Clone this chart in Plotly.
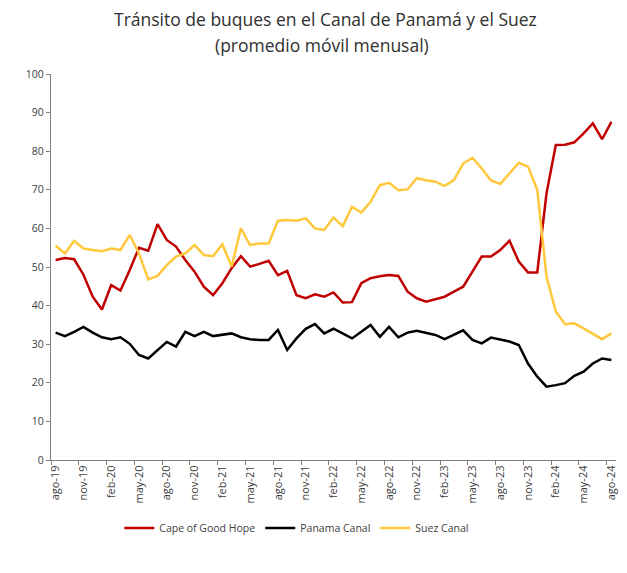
import plotly.graph_objects as go

months = ["ago", "sep", "oct", "nov", "dic", "ene", "feb", "mar", "abr", "may", "jun", "jul"]
categories = []
for i in range(61):
    mi = i % 12
    yr = 19 + (i + 7) // 12
    categories.append(f"{months[mi]}-{yr}")

cape = [51.8, 52.3, 52.0, 48.0, 42.3, 39.0, 45.3, 43.9, 49.2, 55.0, 54.2, 61.1,
        57.0, 55.3, 51.8, 48.8, 44.9, 42.7, 45.8, 49.7, 52.8, 50.1, 50.8, 51.6,
        47.9, 49.0, 42.7, 41.9, 42.9, 42.3, 43.4, 40.8, 40.9, 45.8, 47.1, 47.6,
        47.9, 47.7, 43.6, 41.9, 41.0, 41.6, 42.3, 43.6, 44.9, 48.8, 52.7, 52.7,
        54.4, 56.8, 51.4, 48.6, 48.6, 69.1, 81.6, 81.7, 82.3, 84.6, 87.2, 83.1, 87.6]

panama = [33.0, 32.1, 33.2, 34.5, 33.0, 31.8, 31.3, 31.8, 30.1, 27.2, 26.3, 28.5,
          30.6, 29.4, 33.2, 32.1, 33.2, 32.1, 32.4, 32.8, 31.8, 31.3, 31.1, 31.1,
          33.7, 28.5, 31.5, 34.0, 35.2, 32.8, 34.0, 32.8, 31.5, 33.2, 35.0, 31.9,
          34.5, 31.8, 33.0, 33.5, 33.0, 32.4, 31.3, 32.4, 33.6, 31.1, 30.2, 31.7,
          31.1, 30.7, 29.8, 25.0, 21.6, 19.0, 19.4, 19.9, 21.8, 22.9, 25.0, 26.3, 25.9]

suez = [55.5, 53.5, 56.8, 54.8, 54.4, 54.1, 54.8, 54.4, 58.3, 53.5, 46.8, 47.7,
        50.5, 52.7, 53.5, 55.7, 53.1, 52.8, 55.9, 50.1, 60.0, 55.7, 56.1, 56.1,
        62.0, 62.2, 62.0, 62.6, 60.0, 59.6, 62.8, 60.6, 65.6, 64.1, 66.9, 71.2,
        71.8, 69.9, 70.1, 73.0, 72.5, 72.1, 71.0, 72.5, 76.8, 78.3, 75.6, 72.4,
        71.5, 74.3, 77.0, 76.0, 70.0, 47.5, 38.5, 35.2, 35.4, 34.1, 32.8, 31.3, 32.8]

y_ticks = list(range(0, 101, 10))

x = list(range(len(categories)))
label_idx = list(range(0, 61, 3))
label_text = [categories[i] for i in label_idx]
boundary_ticks = [i - 0.5 for i in range(0, 61, 3)]

font_family = "Open Sans, Lato, sans-serif"
text_color = "#404040"

fig = go.Figure()
fig.add_trace(go.Scatter(x=x, y=cape, mode="lines", name="Cape of Good Hope",
                         line=dict(color="#C00000", width=2.5)))
fig.add_trace(go.Scatter(x=x, y=panama, mode="lines", name="Panama Canal",
                         line=dict(color="#000000", width=2.5)))
fig.add_trace(go.Scatter(x=x, y=suez, mode="lines", name="Suez Canal",
                         line=dict(color="#FFC83D", width=2.5)))

plot_h = 386
fig.update_layout(
    width=627, height=573,
    margin=dict(l=51, r=9, t=74, b=113),
    paper_bgcolor="white", plot_bgcolor="white",
    font=dict(family=font_family, color=text_color, size=10),
    showlegend=True,
    legend=dict(orientation="h", x=0.435, xanchor="center", y=-(528 - 460) / plot_h,
                yanchor="middle", font=dict(size=10.5, color=text_color), itemwidth=30,
                tracegroupgap=0),
    annotations=[
        dict(text="Tránsito de buques en el Canal de Panamá y el Suez", xref="paper", yref="paper",
             x=(326 - 51) / 567, y=1 + (74 - 19) / plot_h, xanchor="center", yanchor="middle",
             showarrow=False, font=dict(size=17.5, color="#303030")),
        dict(text="(promedio móvil menusal)", xref="paper", yref="paper",
             x=(323 - 51) / 567, y=1 + (74 - 45) / plot_h, xanchor="center", yanchor="middle",
             showarrow=False, font=dict(size=17.5, color="#303030")),
    ],
)

fig.update_xaxes(
    range=[-0.5, 60.5], tickmode="array", tickvals=label_idx, ticktext=label_text,
    tickangle=-90, ticks="", showgrid=False, zeroline=False,
    showline=True, linecolor="#808080", linewidth=1.2,
    tickfont=dict(size=11, color=text_color),
    minor=dict(tickmode="array", tickvals=boundary_ticks, ticks="outside", ticklen=4,
               tickcolor="#808080", showgrid=False),
)
fig.update_yaxes(
    range=[0, 100], tickmode="array", tickvals=y_ticks, ticks="outside", ticklen=4,
    tickcolor="#808080", showgrid=False, zeroline=False,
    showline=True, linecolor="#808080", linewidth=1.2,
    tickfont=dict(size=10.5, color=text_color),
)

fig.write_html("out.html", config={"displayModeBar": False},
               post_script="document.body.style.margin='0';document.body.style.overflow='hidden';")
